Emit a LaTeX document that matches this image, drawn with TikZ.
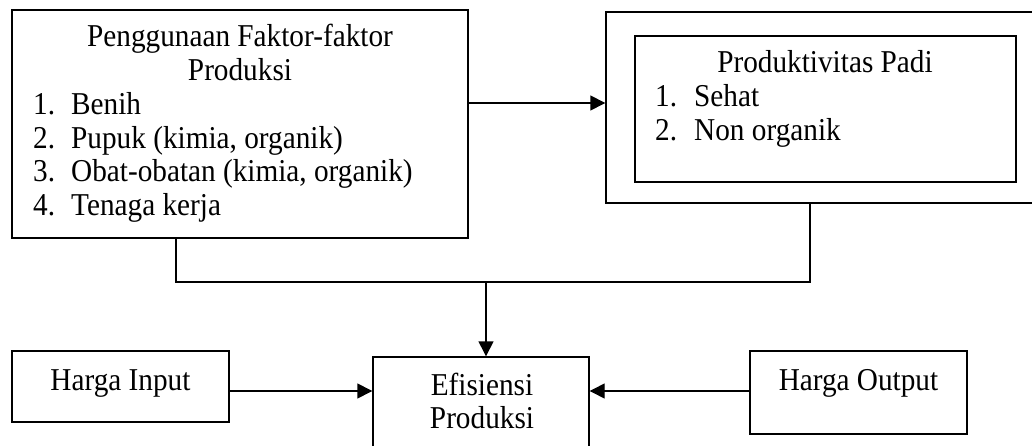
\documentclass[tikz,border=0pt]{standalone}
\usepackage{fontspec}
\setmainfont{Liberation Serif}[FakeStretch=0.92]
\usetikzlibrary{arrows.meta}
\begin{document}
\begin{tikzpicture}[x=1pt,y=-1pt,
  box/.style={draw, line width=1.4pt, rectangle, inner sep=0pt},
  txt/.style={font=\fontsize{31.8}{34}\selectfont, inner sep=0pt, anchor=base},
  ltxt/.style={txt, anchor=base west},
  arr/.style={-{Triangle[length=15pt,width=15pt]}, line width=1.4pt},
  con/.style={line width=1.4pt}]
\useasboundingbox (0,0) rectangle (1032,446);
% boxes
\node[box, minimum width=456pt, minimum height=228pt] (b1) at (240,124) {};
\node[box, minimum width=434pt, minimum height=191pt] (b2o) at (823,107.5) {};
\node[box, minimum width=381pt, minimum height=146pt] (b2i) at (825.5,109) {};
\node[box, minimum width=217pt, minimum height=71pt] (hi) at (120.5,386.5) {};
\node[box, minimum width=216pt, minimum height=113pt] (eff) at (481,413.5) {};
\node[box, minimum width=217pt, minimum height=83pt] (ho) at (858.5,392.5) {};
% texts box 1
\node[txt] (t1a) at (240,47) {Penggunaan Faktor-faktor};
\node[txt] (t1b) at (240,80.7) {Produksi};
\node[ltxt] (t1c) at (33,114.4) {\makebox[38pt][l]{1.}Benih};
\node[ltxt] (t1d) at (33,148.1) {\makebox[38pt][l]{2.}Pupuk (kimia, organik)};
\node[ltxt] (t1e) at (33,181.8) {\makebox[38pt][l]{3.}Obat-obatan (kimia, organik)};
\node[ltxt] (t1f) at (33,215.5) {\makebox[38pt][l]{4.}Tenaga kerja};
% texts box 2
\node[txt] (t2a) at (825,73) {Produktivitas Padi};
\node[ltxt] (t2b) at (655,107) {\makebox[39pt][l]{1.}Sehat};
\node[ltxt] (t2c) at (655,141) {\makebox[39pt][l]{2.}Non organik};
% bottom texts
\node[txt] (thi) at (120.5,390) {Harga Input};
\node[txt] (tho) at (858.5,390) {Harga Output};
\node[txt] (te1) at (482,395) {Efisiensi};
\node[txt] (te2) at (482,428) {Produksi};
% connectors
\coordinate (m1) at (176,282);
\coordinate (m2) at (810,282);
\coordinate (m3) at (486,282);
\draw[arr] (b1.east |- 0,103) -- (b2o.west |- 0,103);
\draw[con] (b1.south -| m1) -- (m1) -- (m2) -- (b2o.south -| m2);
\draw[arr] (m3) -- (eff.north -| m3);
\draw[arr] (hi.east |- 0,391) -- (eff.west |- 0,391);
\draw[arr] (ho.west |- 0,391) -- (eff.east |- 0,391);
\end{tikzpicture}
\end{document}
